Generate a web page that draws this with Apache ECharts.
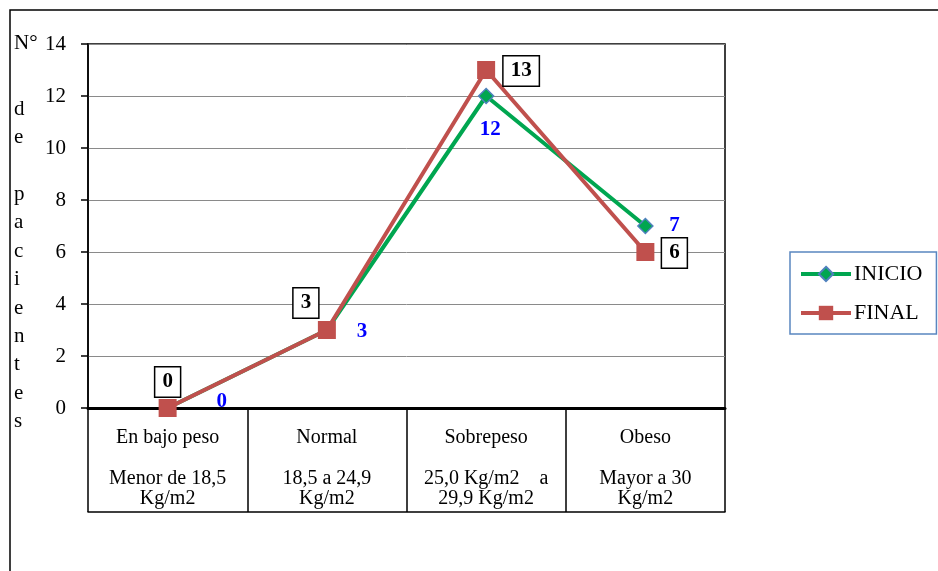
<!DOCTYPE html>
<html>
<head>
<meta charset="utf-8">
<script src="https://cdn.jsdelivr.net/npm/echarts@6/dist/echarts.min.js"></script>
<style>
  html, body { margin: 0; padding: 0; background: #fff; }
  #chart { width: 938px; height: 571px; }
</style>
</head>
<body>
<div id="chart"></div>
<script>
// Patients by body-mass category, at the start and at the end
var categories = [
  'En bajo peso\n\nMenor de 18,5\nKg/m2',
  'Normal\n\n18,5 a 24,9\nKg/m2',
  'Sobrepeso\n\n25,0 Kg/m2    a\n29,9 Kg/m2',
  'Obeso\n\nMayor a 30\nKg/m2'
];
var inicioValues = [0, 3, 12, 7];
var finalValues = [0, 3, 13, 6];
var yTicks = { min: 0, max: 14, step: 2 };
var yAxisTitle = ['N°', 'd', 'e', '', 'p', 'a', 'c', 'i', 'e', 'n', 't', 'e', 's'];

// label placement relative to each point
var inicioLabelOffsets = [[54, -6], [35, 2], [4, 34], [29, 0]];
var finalLabelOffsets = [[0, -26], [-21, -27], [35, 1], [29, 1]];

var SERIF = '"Liberation Serif", "Times New Roman", serif';
var GREEN = '#00a650';
var RED = '#c0504d';

var chart = echarts.init(document.getElementById('chart'));

function withOffsets(values, offsets) {
  return values.map(function (v, i) {
    return { value: v, label: { offset: offsets[i] } };
  });
}

chart.setOption({
  animation: false,
  backgroundColor: '#fff',
  textStyle: { fontFamily: SERIF },
  graphic: [
    {
      type: 'rect',
      shape: { x: 10, y: 10, width: 940, height: 600 },
      style: { fill: 'none', stroke: '#000', lineWidth: 1.5 },
      silent: true
    },
    {
      type: 'text',
      left: 14,
      top: 33,
      style: {
        text: yAxisTitle[0],
        font: '21px ' + SERIF,
        fill: '#000'
      }
    },
    {
      type: 'text',
      left: 14,
      top: 95,
      style: {
        text: yAxisTitle.slice(1).join('\n'),
        font: '21px ' + SERIF,
        lineHeight: 28.4,
        fill: '#000'
      }
    }
  ],
  legend: {
    orient: 'vertical',
    left: 790,
    top: 252,
    padding: [11, 14, 10, 9],
    itemGap: 17,
    itemWidth: 50,
    itemHeight: 18,
    borderColor: '#5a86c0',
    borderWidth: 1.5,
    lineStyle: { width: 4 },
    textStyle: { fontFamily: SERIF, fontSize: 22, color: '#000', padding: [0, 0, 0, -2] },
    data: ['INICIO', 'FINAL']
  },
  grid: {
    left: 88,
    right: 213,
    top: 44,
    bottom: 163,
    show: true,
    borderColor: '#000',
    borderWidth: 1.5
  },
  xAxis: [
    {
      type: 'category',
      data: categories,
      boundaryGap: true,
      axisLine: { show: true, lineStyle: { color: '#000', width: 3 } },
      axisTick: { show: true, length: 104, lineStyle: { color: '#000', width: 1.5 } },
      axisLabel: {
        interval: 0,
        margin: 19,
        color: '#000',
        fontFamily: SERIF,
        fontSize: 20,
        lineHeight: 20.5
      },
      splitLine: { show: false }
    },
    {
      type: 'category',
      data: categories,
      position: 'bottom',
      offset: 104,
      axisLine: { show: true, lineStyle: { color: '#000', width: 1.5 } },
      axisTick: { show: false },
      axisLabel: { show: false },
      splitLine: { show: false }
    }
  ],
  yAxis: {
    type: 'value',
    min: yTicks.min,
    max: yTicks.max,
    interval: yTicks.step,
    axisLine: { show: true, lineStyle: { color: '#000', width: 1.5 } },
    axisTick: { show: true, length: 7, lineStyle: { color: '#000', width: 1.5 } },
    axisLabel: { margin: 22, color: '#000', fontFamily: SERIF, fontSize: 21 },
    splitLine: { show: true, lineStyle: { color: '#8a8a8a', width: 1 } }
  },
  series: [
    {
      name: 'INICIO',
      type: 'line',
      xAxisIndex: 0,
      data: withOffsets(inicioValues, inicioLabelOffsets),
      symbol: 'diamond',
      symbolSize: 15,
      lineStyle: { color: GREEN, width: 4 },
      itemStyle: { color: GREEN, borderColor: '#4f81bd', borderWidth: 1.5 },
      label: {
        show: true,
        position: 'inside',
        formatter: '{c}',
        color: '#0000ff',
        fontFamily: SERIF,
        fontWeight: 'bold',
        fontSize: 21
      },
      z: 2
    },
    {
      name: 'FINAL',
      type: 'line',
      xAxisIndex: 0,
      data: withOffsets(finalValues, finalLabelOffsets),
      symbol: 'rect',
      symbolSize: 18,
      lineStyle: { color: RED, width: 4 },
      itemStyle: { color: RED, borderColor: RED, borderWidth: 0 },
      label: {
        show: true,
        position: 'inside',
        formatter: '{c}',
        color: '#000',
        fontFamily: SERIF,
        fontWeight: 'bold',
        fontSize: 21,
        lineHeight: 22,
        backgroundColor: '#fff',
        borderColor: '#000',
        borderWidth: 1.5,
        padding: [4, 7, 3, 7]
      },
      z: 3
    }
  ]
});
</script>
</body>
</html>
